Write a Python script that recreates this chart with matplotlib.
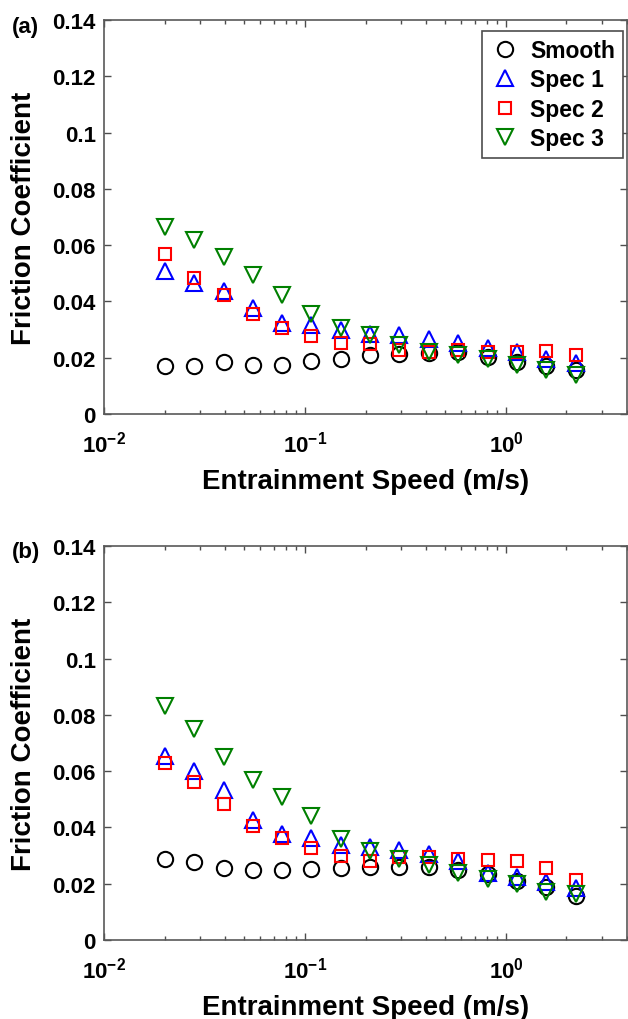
import numpy as np
import matplotlib.pyplot as plt

plt.rcParams['font.family'] = ['Liberation Sans', 'DejaVu Sans']
plt.rcParams['font.weight'] = 'bold'
plt.rcParams['mathtext.fontset'] = 'custom'
plt.rcParams['mathtext.rm'] = 'Liberation Sans:bold'
plt.rcParams['mathtext.bf'] = 'Liberation Sans:bold'
plt.rcParams['mathtext.default'] = 'bf'

# Entrainment speed (m/s), shared by both panels
speed = [0.02, 0.028, 0.0395, 0.055, 0.077, 0.107, 0.151, 0.21, 0.294,
         0.414, 0.58, 0.81, 1.13, 1.59, 2.23]

# Panel (a)
smooth_a = [0.0172, 0.0170, 0.0186, 0.0174, 0.0174, 0.0188, 0.0197, 0.0209,
            0.0213, 0.0218, 0.0219, 0.0203, 0.0186, 0.0170, 0.0156]
spec1_a = [0.0507, 0.0467, 0.0436, 0.0375, 0.0325, 0.0316, 0.0298, 0.0284,
           0.0280, 0.0268, 0.0254, 0.0235, 0.0219, 0.0195, 0.0182]
spec2_a = [0.0567, 0.0485, 0.0422, 0.0357, 0.0304, 0.0277, 0.0253, 0.0248,
           0.0227, 0.0221, 0.0227, 0.0221, 0.0221, 0.0223, 0.0209]
spec3_a = [0.0665, 0.0617, 0.0558, 0.0493, 0.0422, 0.0357, 0.0304, 0.0280,
           0.0245, 0.0221, 0.0209, 0.0197, 0.0174, 0.0156, 0.0138]

# Panel (b)
smooth_b = [0.0288, 0.0277, 0.0257, 0.0247, 0.0247, 0.0251, 0.0257, 0.0259,
            0.0261, 0.0261, 0.0247, 0.0236, 0.0210, 0.0189, 0.0156]
spec1_b = [0.0654, 0.0601, 0.0532, 0.0425, 0.0376, 0.0364, 0.0337, 0.0329,
           0.0321, 0.0306, 0.0282, 0.0239, 0.0224, 0.0206, 0.0183]
spec2_b = [0.0628, 0.0563, 0.0482, 0.0405, 0.0362, 0.0327, 0.0300, 0.0282,
           0.0296, 0.0296, 0.0288, 0.0285, 0.0279, 0.0257, 0.0212]
spec3_b = [0.0833, 0.0751, 0.0651, 0.0569, 0.0509, 0.0440, 0.0359, 0.0317,
           0.0288, 0.0265, 0.0239, 0.0218, 0.0198, 0.0171, 0.0162]

labels = ['Smooth', 'Spec 1', 'Spec 2', 'Spec 3']
colors = ['black', 'blue', 'red', (0, 0.5, 0)]
markers = ['o', '^', 's', 'v']
msizes = [11, 11, 8, 11]
yticks = [0, 0.02, 0.04, 0.06, 0.08, 0.1, 0.12, 0.14]
yticklabels = ['0', '0.02', '0.04', '0.06', '0.08', '0.1', '0.12', '0.14']

W, H = 628, 1020
fig = plt.figure(figsize=(W / 100, H / 100), dpi=100)
ax_a = fig.add_axes([104 / W, 1 - 415 / H, 523 / W, 394 / H])
ax_b = fig.add_axes([104 / W, 1 - 941 / H, 523 / W, 394 / H])

panels = [(ax_a, [smooth_a, spec1_a, spec2_a, spec3_a], '(a)', 28),
          (ax_b, [smooth_b, spec1_b, spec2_b, spec3_b], '(b)', 553)]

for ax, series, tag, ty in panels:
    for vals, lab, c, m, ms in zip(series, labels, colors, markers, msizes):
        ax.plot(speed, vals, linestyle='none', marker=m, ms=ms,
                mfc='none', mec=c, mew=1.5, label=lab)
    ax.set_xscale('log')
    ax.set_xlim(0.01, 4)
    ax.set_ylim(0, 0.14)
    ax.set_yticks(yticks)
    ax.set_yticklabels(yticklabels)
    ax.set_xticks([0.01, 0.1, 1])
    ax.set_xticklabels([r'$10^{-2}$', r'$10^{-1}$', r'$10^{0}$'])
    ax.tick_params(which='both', direction='in', top=True, right=True,
                   labelsize=16, color='0.3')
    ax.tick_params(axis='y', pad=6)
    ax.tick_params(axis='x', pad=12)
    ax.tick_params(which='major', length=5, width=1)
    ax.tick_params(which='minor', length=3, width=1)
    for sp in ax.spines.values():
        sp.set_color('0.35')
        sp.set_linewidth(1.2)
    ax.set_xlabel('Entrainment Speed (m/s)', fontsize=20, fontweight='bold', labelpad=8)
    ax.set_ylabel('Friction Coefficient', fontsize=20, fontweight='bold', labelpad=11)
    fig.text(12 / W, 1 - ty / H, tag, fontsize=16, fontweight='bold', va='center')

leg = ax_a.legend(loc='upper right', bbox_to_anchor=(0.992, 0.972), borderaxespad=0,
                  fontsize=16.5, labelspacing=0.28, handletextpad=0.45,
                  handlelength=1.3, borderpad=0.35, fancybox=False, framealpha=1)
leg.get_frame().set_edgecolor('0.3')
leg.get_frame().set_linewidth(1.2)

fig.savefig('out.png', dpi=100)
